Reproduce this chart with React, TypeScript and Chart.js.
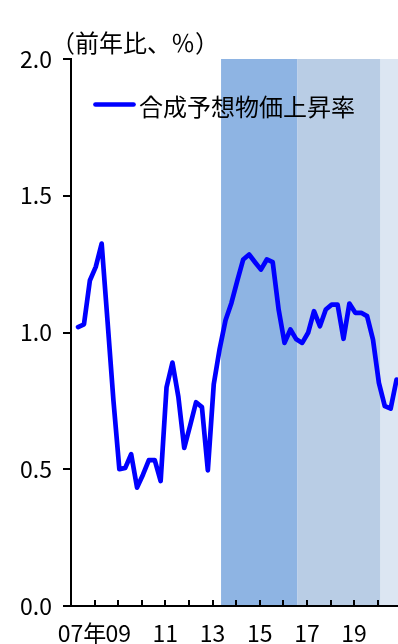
import React, { useEffect, useRef } from "react";
import { Chart, registerables } from "chart.js";

Chart.register(...registerables);

// Quarterly categories
const QUARTERS = [
  "2007Q2", "2007Q3", "2007Q4",
  "2008Q1", "2008Q2", "2008Q3", "2008Q4",
  "2009Q1", "2009Q2", "2009Q3", "2009Q4",
  "2010Q1", "2010Q2", "2010Q3", "2010Q4",
  "2011Q1", "2011Q2", "2011Q3", "2011Q4",
  "2012Q1", "2012Q2", "2012Q3", "2012Q4",
  "2013Q1", "2013Q2", "2013Q3", "2013Q4",
  "2014Q1", "2014Q2", "2014Q3", "2014Q4",
  "2015Q1", "2015Q2", "2015Q3", "2015Q4",
  "2016Q1", "2016Q2", "2016Q3", "2016Q4",
  "2017Q1", "2017Q2", "2017Q3", "2017Q4",
  "2018Q1", "2018Q2", "2018Q3", "2018Q4",
  "2019Q1", "2019Q2", "2019Q3", "2019Q4",
  "2020Q1", "2020Q2", "2020Q3", "2020Q4",
];

// 合成予想物価上昇率 (前年比, %)
const EXPECTED_INFLATION = [
  1.02, 1.03, 1.19,
  1.24, 1.325, 1.04, 0.75,
  0.5, 0.505, 0.555, 0.433,
  0.48, 0.533, 0.533, 0.457,
  0.8, 0.89, 0.765, 0.578,
  0.66, 0.745, 0.727, 0.496,
  0.81, 0.94, 1.045, 1.108,
  1.19, 1.267, 1.285, 1.257,
  1.23, 1.267, 1.257, 1.084,
  0.962, 1.011, 0.975, 0.962,
  0.999, 1.078, 1.023, 1.084,
  1.102, 1.102, 0.977, 1.106,
  1.072, 1.072, 1.06, 0.974,
  0.816, 0.731, 0.722, 0.828,
];

const SERIES_LABEL = "合成予想物価上昇率";
const UNIT_LABEL = "（前年比、％）";

// Shaded policy periods (fractional years)
const PERIOD_STARTS = [2013.36, 2016.6, 2020.12];
const PERIOD_ENDS = [2016.6, 2020.12, 2021.5];
const PERIOD_COLORS = ["#8EB4E3", "#B9CDE5", "#DCE6F2"];

// Axis ticks / labels
const X_MIN = 2007;
const X_MAX = 2020.86;
const X_TICK_YEARS = [2008, 2009, 2010, 2011, 2012, 2013, 2014, 2015, 2016, 2017, 2018, 2019, 2020];
const X_LABEL_VALUES = [2007.47, 2009, 2011, 2013, 2015, 2017, 2019];
const X_LABEL_TEXTS = ["07年", "09", "11", "13", "15", "17", "19"];
const Y_MIN = 0;
const Y_MAX = 2;
const Y_STEP = 0.5;

const POINT_SHIFT = 0.05;
const FONT = '"Noto Sans CJK JP", "Noto Sans CJK SC", sans-serif';

function quarterToX(q: string): number {
  const year = parseInt(q.slice(0, 4), 10);
  const qi = parseInt(q.slice(5), 10);
  return year + (qi - 1) / 4 + POINT_SHIFT;
}

const shadingPlugin = {
  id: "shading",
  beforeDraw(chart: any) {
    const { ctx, chartArea, scales } = chart;
    const xs = scales.x;
    ctx.save();
    ctx.beginPath();
    ctx.rect(chartArea.left, chartArea.top, chartArea.right - chartArea.left, chartArea.bottom - chartArea.top);
    ctx.clip();
    PERIOD_STARTS.forEach((s, i) => {
      const x0 = xs.getPixelForValue(s);
      const x1 = xs.getPixelForValue(PERIOD_ENDS[i]);
      ctx.fillStyle = PERIOD_COLORS[i];
      ctx.fillRect(x0, chartArea.top, x1 - x0, chartArea.bottom - chartArea.top);
    });
    ctx.restore();
  },
};

const decorPlugin = {
  id: "decor",
  beforeDatasetsDraw(chart: any) {
    const { ctx, chartArea, scales } = chart;
    const xs = scales.x;
    ctx.save();
    ctx.strokeStyle = "#000";
    ctx.lineWidth = 2;
    X_TICK_YEARS.forEach((yr) => {
      const px = Math.round(xs.getPixelForValue(yr));
      ctx.beginPath();
      ctx.moveTo(px, chartArea.bottom);
      ctx.lineTo(px, chartArea.bottom - 6);
      ctx.stroke();
    });
    ctx.restore();
  },
  afterDraw(chart: any) {
    const { ctx } = chart;
    ctx.save();
    // unit label
    ctx.fillStyle = "#000";
    ctx.font = `24px ${FONT}`;
    ctx.textAlign = "left";
    ctx.textBaseline = "middle";
    ctx.fillText(UNIT_LABEL, 51, 43);
    // legend
    ctx.strokeStyle = "#0000FF";
    ctx.lineWidth = 4.7;
    ctx.lineCap = "round";
    ctx.beginPath();
    ctx.moveTo(95.5, 104.5);
    ctx.lineTo(133.5, 104.5);
    ctx.stroke();
    ctx.fillText(SERIES_LABEL, 139, 106.5);
    ctx.restore();
  },
};

export default function App() {
  const canvasRef = useRef<HTMLCanvasElement | null>(null);

  useEffect(() => {
    const canvas = canvasRef.current;
    if (!canvas) return;
    const points = QUARTERS.map((q, i) => ({ x: quarterToX(q), y: EXPECTED_INFLATION[i] }));
    const chart = new Chart(canvas, {
      type: "line",
      data: {
        datasets: [
          {
            label: SERIES_LABEL,
            data: points,
            borderColor: "#0000FF",
            backgroundColor: "#0000FF",
            borderWidth: 4.7,
            pointRadius: 0,
            pointHoverRadius: 0,
            tension: 0,
            borderJoinStyle: "round",
            borderCapStyle: "round",
            fill: false,
          },
        ],
      },
      options: {
        responsive: false,
        animation: false,
        devicePixelRatio: 1,
        layout: { padding: { top: 59, right: 0, left: 0, bottom: 0 } },
        plugins: {
          legend: { display: false },
          tooltip: { enabled: false },
          title: { display: false },
        },
        scales: {
          x: {
            type: "linear",
            min: X_MIN,
            max: X_MAX,
            afterFit: (s: any) => {
              s.height = 38;
            },
            afterBuildTicks: (s: any) => {
              s.ticks = X_LABEL_VALUES.map((v) => ({ value: v }));
            },
            grid: { display: false, drawTicks: false },
            border: { display: true, color: "#000", width: 2 },
            ticks: {
              autoSkip: false,
              maxRotation: 0,
              minRotation: 0,
              padding: 13,
              color: "#000",
              font: { family: FONT, size: 23 },
              callback: (_v: any, i: number) => X_LABEL_TEXTS[i],
            },
          },
          y: {
            type: "linear",
            min: Y_MIN,
            max: Y_MAX,
            afterFit: (s: any) => {
              s.width = 71;
            },
            grid: {
              display: true,
              drawOnChartArea: false,
              drawTicks: true,
              tickLength: 8,
              color: "#000",
              lineWidth: 2,
            },
            border: { display: true, color: "#000", width: 2 },
            ticks: {
              stepSize: Y_STEP,
              padding: 11,
              color: "#000",
              font: { family: FONT, size: 23 },
              callback: (v: any) => Number(v).toFixed(1),
            },
          },
        },
      },
      plugins: [shadingPlugin, decorPlugin],
    } as any);
    return () => chart.destroy();
  }, []);

  return (
    <div style={{ position: "fixed", left: 0, top: 0, width: 398, height: 644, background: "#fff" }}>
      <canvas ref={canvasRef} width={398} height={644} style={{ display: "block" }} />
    </div>
  );
}
